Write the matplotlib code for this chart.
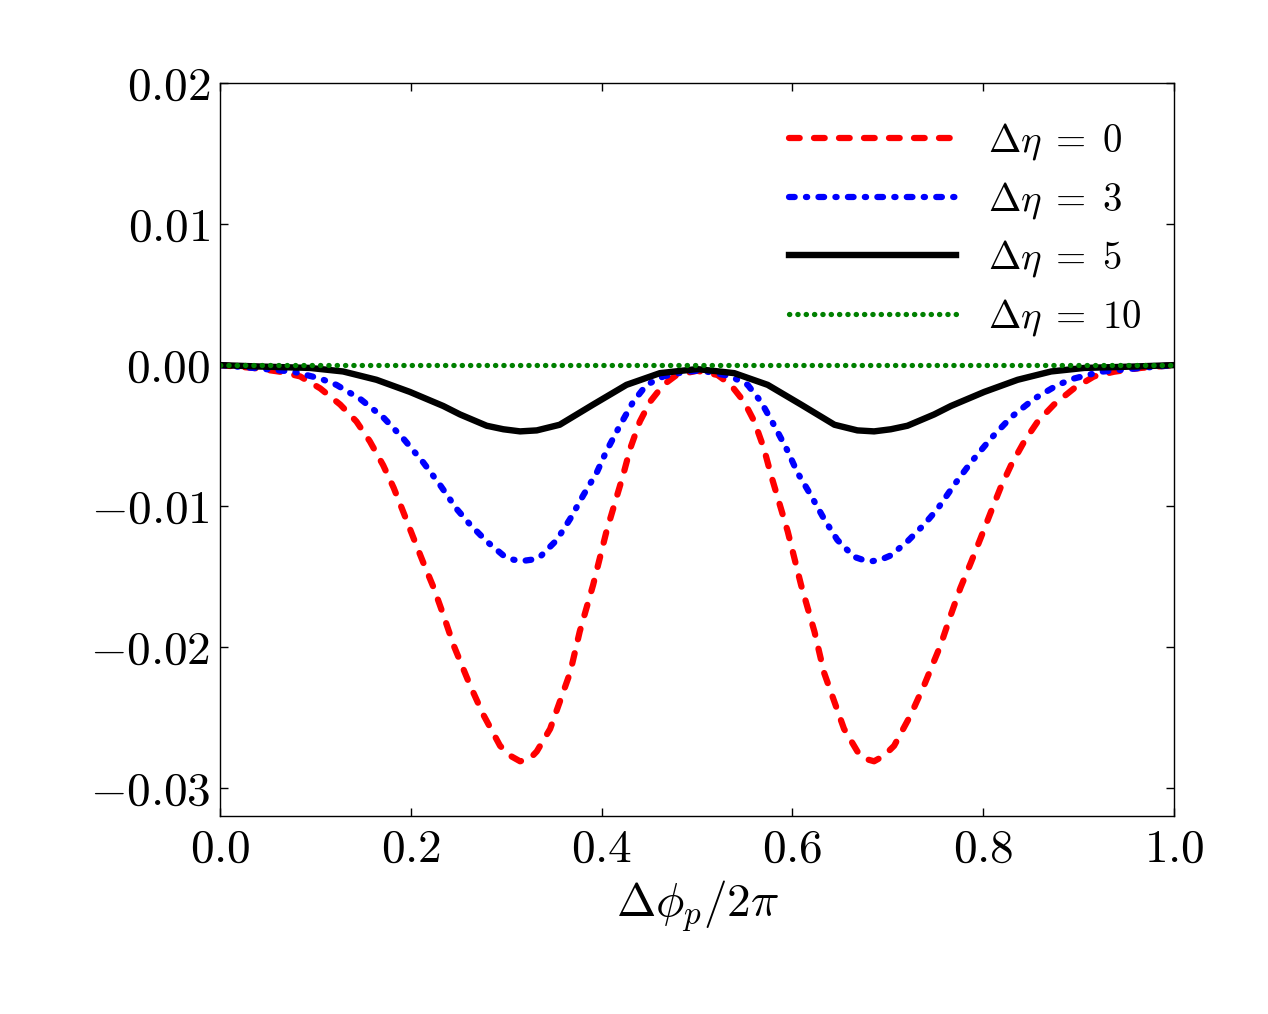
import matplotlib
matplotlib.use('Agg')
import matplotlib.pyplot as plt
from matplotlib.ticker import FuncFormatter

plt.rcParams['mathtext.fontset'] = 'cm'
plt.rcParams['font.family'] = 'serif'
plt.rcParams['font.serif'] = ['cmr10', 'DejaVu Serif']
plt.rcParams['lines.scale_dashes'] = False

# values
xR = [0.0, 0.035, 0.063, 0.084, 0.105, 0.126, 0.143, 0.157, 0.171, 0.182, 0.192, 0.203,
      0.213, 0.224, 0.234, 0.245, 0.262, 0.276, 0.2935, 0.304, 0.3145, 0.325, 0.332, 0.346,
      0.356, 0.367, 0.377, 0.391, 0.405, 0.4225, 0.43, 0.44, 0.4507, 0.4647, 0.4786, 0.5,
      0.5214, 0.5353, 0.5493, 0.56, 0.57, 0.5775, 0.595, 0.609, 0.623, 0.633, 0.644, 0.654,
      0.668, 0.675, 0.6855, 0.696, 0.7065, 0.724, 0.738, 0.755, 0.766, 0.776, 0.787, 0.797,
      0.808, 0.818, 0.829, 0.843, 0.857, 0.874, 0.895, 0.916, 0.937, 0.965, 1.0]
dEta0 = [0.0, -0.0002, -0.00047, -0.0008, -0.00165, -0.0028, -0.0040, -0.0054, -0.0071, -0.0087, -0.0104, -0.0123,
         -0.0140, -0.0158, -0.0177, -0.0199, -0.0227, -0.0248, -0.0270, -0.0277, -0.0281, -0.0279, -0.0274, -0.0258,
         -0.0239, -0.0218, -0.0189, -0.0156, -0.0118, -0.0078, -0.0059, -0.0040, -0.0026, -0.0014, -0.0007, -0.0004,
         -0.0007, -0.0014, -0.0026, -0.0040, -0.0059, -0.0078, -0.0118, -0.0156, -0.0189, -0.0218, -0.0239, -0.0258,
         -0.0274, -0.0279, -0.0281, -0.0277, -0.0270, -0.0248, -0.0227, -0.0199, -0.0177, -0.0158, -0.0140, -0.0123,
         -0.0104, -0.0087, -0.0071, -0.0054, -0.0040, -0.0028, -0.00165, -0.0008, -0.00047, -0.0002, 0.0]

xB = [0.0, 0.035, 0.077, 0.105, 0.122, 0.147, 0.171, 0.192, 0.213, 0.2306, 0.248, 0.262,
      0.2795, 0.297, 0.3075, 0.316, 0.3267, 0.3354, 0.353, 0.367, 0.381, 0.395, 0.405, 0.419,
      0.433, 0.447, 0.4647, 0.4856, 0.5,
      0.5144, 0.5353, 0.553, 0.567, 0.581, 0.595, 0.605, 0.619, 0.633, 0.647, 0.6646, 0.6733,
      0.684, 0.6925, 0.703, 0.7205, 0.738, 0.752, 0.7694, 0.787, 0.808, 0.829, 0.853, 0.878,
      0.895, 0.923, 0.965, 1.0]
dEta3 = [0.0, -0.0002, -0.00047, -0.00095, -0.0014, -0.0024, -0.0037, -0.0052, -0.0069, -0.0085, -0.0102, -0.0113,
         -0.0125, -0.0135, -0.0138, -0.0139, -0.0138, -0.0136, -0.0124, -0.0109, -0.0092, -0.0076, -0.0061, -0.0043,
         -0.0026, -0.0014, -0.0008, -0.0005, -0.0004,
         -0.0005, -0.0008, -0.0014, -0.0026, -0.0043, -0.0061, -0.0076, -0.0092, -0.0109, -0.0124, -0.0136, -0.0138,
         -0.0139, -0.0138, -0.0135, -0.0125, -0.0113, -0.0102, -0.0085, -0.0069, -0.0052, -0.0037, -0.0024, -0.0014,
         -0.00095, -0.00047, -0.0002, 0.0]

xK = [0.0, 0.042, 0.0943, 0.129, 0.164, 0.199, 0.234, 0.2516, 0.2795, 0.297, 0.3145, 0.332,
      0.356, 0.391, 0.426, 0.461, 0.5,
      0.539, 0.574, 0.609, 0.644, 0.668, 0.6855, 0.703, 0.7205, 0.7484, 0.766, 0.801,
      0.836, 0.871, 0.9057, 0.958, 1.0]
dEta5 = [0.0, -0.0001, -0.0002, -0.00045, -0.00104, -0.0019, -0.0029, -0.0035, -0.0043, -0.00455, -0.0047, -0.00463,
         -0.00423, -0.0028, -0.0014, -0.00057, -0.00028,
         -0.00057, -0.0014, -0.0028, -0.00423, -0.00463, -0.0047, -0.00455, -0.0043, -0.0035, -0.0029, -0.0019,
         -0.00104, -0.00045, -0.0002, -0.0001, 0.0]

xG = [0.0, 0.25, 0.5, 0.75, 1.0]
dEta10 = [0.0, 0.0, 0.0, 0.0, 0.0]

fig = plt.figure(figsize=(12.68, 10.14), dpi=100)
ax = fig.add_axes([0.1735, 0.195, 0.7525, 0.723])

ax.plot(xR, dEta0, color='r', lw=4.5, dashes=(7.7, 10.3), dash_capstyle='round',
        label=r'$\Delta\eta\;=\;0$')
ax.plot(xB, dEta3, color='b', lw=4.5, dashes=(4.1, 8.1, 0.9, 8.1), dash_capstyle='round',
        label=r'$\Delta\eta\;=\;3$')
ax.plot(xK, dEta5, color='k', lw=4.6, solid_joinstyle='round', label=r'$\Delta\eta\;=\;5$')
ax.plot(xG, dEta10, color=(0, 0.5, 0), lw=3.8, dashes=(0.2, 5.8), dash_capstyle='round',
        label=r'$\Delta\eta\;=\;10$')

ax.set_xlim(0, 1)
ax.set_ylim(-0.032, 0.02)
ax.set_xticks([0.0, 0.2, 0.4, 0.6, 0.8, 1.0])
ax.set_yticks([-0.03, -0.02, -0.01, 0.0, 0.01, 0.02])
ax.xaxis.set_major_formatter(FuncFormatter(lambda v, p: r'$%.1f$' % v))
ax.yaxis.set_major_formatter(FuncFormatter(lambda v, p: r'$%.2f$' % (0.0 if abs(v) < 1e-9 else v)))
ax.tick_params(direction='in', length=6, width=1, labelsize=34, pad=7,
               top=True, right=True)
ax.tick_params(axis='x', pad=9)
for s in ax.spines.values():
    s.set_linewidth(1)

ax.set_xlabel(r'$\Delta\phi_p/2\pi$', fontsize=34, labelpad=6)

ax.legend(loc='upper right', bbox_to_anchor=(0.982, 0.969), borderaxespad=0,
          frameon=False, fontsize=28, handlelength=4.3,
          handletextpad=0.8, labelspacing=0.45)

fig.savefig('out.png', dpi=100)
